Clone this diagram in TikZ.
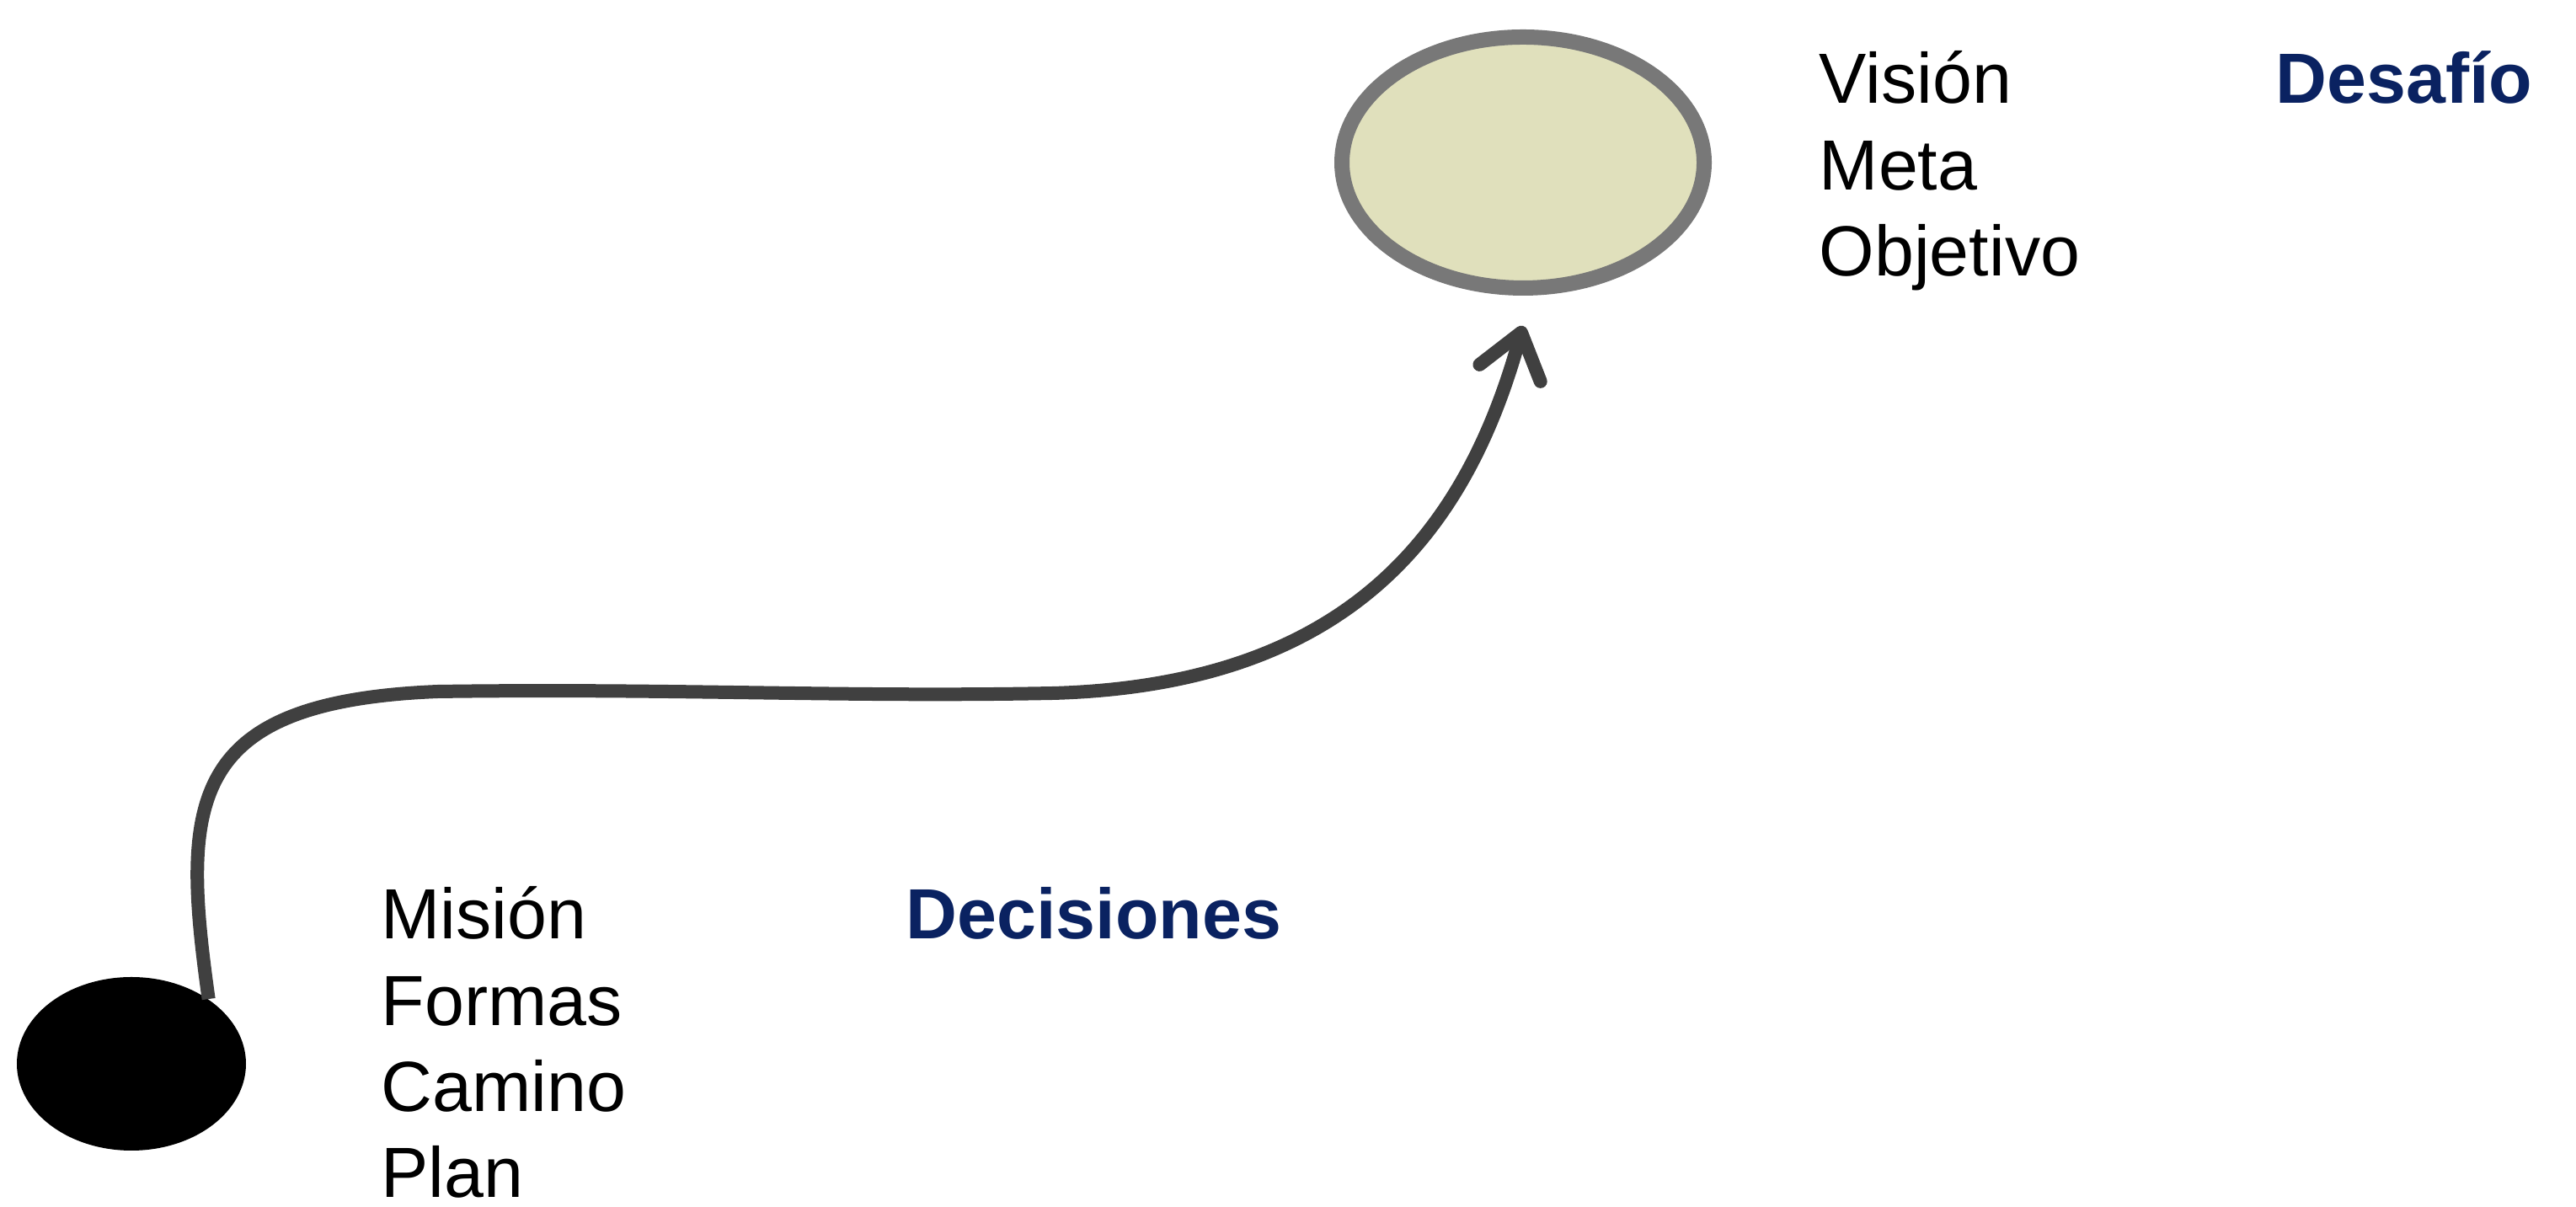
\documentclass[tikz,border=0pt]{standalone}
\usepackage{fontspec}
\setmainfont{Liberation Sans}
\definecolor{azul}{HTML}{0A2261}
\definecolor{crema}{HTML}{E0E0BC}
\definecolor{borde}{HTML}{787878}
\definecolor{trazo}{HTML}{404040}
\usetikzlibrary{shapes.geometric, arrows.meta}
\tikzset{palabra/.style={anchor=base west, inner sep=0pt, font=\fontsize{24}{29}\selectfont},
	titulo/.style={palabra, text=azul, font=\fontsize{24}{29}\selectfont\bfseries}}

\begin{document}
\begin{tikzpicture}
\useasboundingbox (0,0) rectangle (30.58,14.33);
\node[ellipse,fill=crema,draw=borde,line width=0.18cm,minimum width=4.30cm,minimum height=2.98cm] (meta) at (18.08,12.40) {};
\node[ellipse,fill=black,minimum width=2.72cm,minimum height=2.06cm] (inicio) at (1.56,1.70) {};
\draw[trazo,line width=0.16cm,-{Straight Barb[length=5mm,width=7.5mm,round]}]
	(inicio.40) .. controls (2.15,4.8) and (2.2,6.0) .. (5.2,6.12)
	.. controls (8,6.16) and (10,6.05) .. (12.5,6.10)
	.. controls (16,6.2) and (17.4,8.0) .. ([yshift=-3.6mm]meta.south);
\foreach \w [count=\i] in {Misión,Formas,Camino,Plan}
	\node[palabra] (abajo\i) at (4.52,4.203-1.023*\i) {\w};
\foreach \w [count=\i] in {Visión,Meta,Objetivo}
	\node[palabra] (arriba\i) at (21.59,14.125-1.025*\i) {\w};
\node[titulo] (decisiones) at (10.75,3.18) {Decisiones};
\node[titulo] (desafio) at (27.01,13.10) {Desafío};
\end{tikzpicture}
\end{document}
